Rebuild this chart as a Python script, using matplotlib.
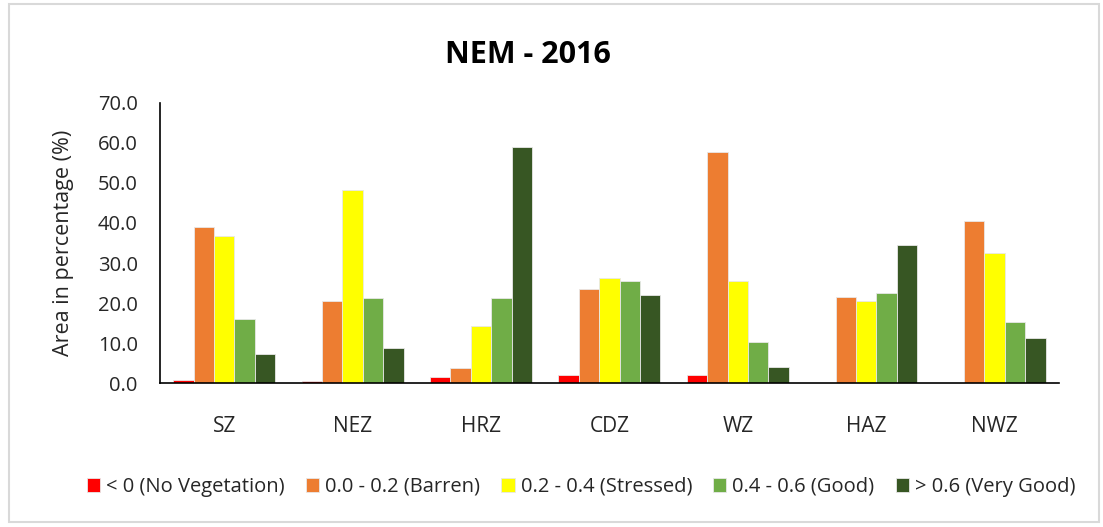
import matplotlib
matplotlib.use("Agg")
import matplotlib.pyplot as plt
from matplotlib.patches import Rectangle
import numpy as np

plt.rcParams['font.family'] = ['Open Sans', 'DejaVu Sans']

zones = ['SZ', 'NEZ', 'HRZ', 'CDZ', 'WZ', 'HAZ', 'NWZ']
classes = ['< 0 (No Vegetation)', '0.0 - 0.2 (Barren)', '0.2 - 0.4 (Stressed)',
           '0.4 - 0.6 (Good)', '> 0.6 (Very Good)']
colors = ['#ff0000', '#ed7d31', '#ffff00', '#70ad47', '#375623']

no_veg = [0.8, 0.4, 1.4, 2.0, 2.0, 0.0, 0.0]
barren = [39.0, 20.6, 3.7, 23.5, 57.8, 21.6, 40.5]
stressed = [36.7, 48.2, 14.2, 26.3, 25.4, 20.6, 32.5]
good = [16.1, 21.2, 21.2, 25.4, 10.3, 22.5, 15.2]
very_good = [7.2, 8.7, 59.1, 21.9, 4.0, 34.4, 11.3]
series = [no_veg, barren, stressed, good, very_good]

fig = plt.figure(figsize=(11.03, 5.27), dpi=100)
ax = fig.add_axes([0.145, 0.2732, 0.815, 0.5314])

x = np.arange(len(zones))
w = 0.159
for i, (vals, c, lab) in enumerate(zip(series, colors, classes)):
    ax.bar(x + (i - 2) * w, vals, w, color=c, label=lab,
           edgecolor='#e8e8e8', linewidth=0.6)

ax.set_xlim(-0.5, len(zones) - 0.5)
ax.set_ylim(0, 70)
ax.set_yticks(np.arange(0, 71, 10))
ax.set_yticklabels(['%.1f' % v for v in np.arange(0, 71, 10)])
ax.set_xticks(x)
ax.set_xticklabels(zones)
ax.tick_params(axis='both', length=0, colors='#262626')
ax.tick_params(axis='y', pad=16, labelsize=14.5)
ax.tick_params(axis='x', pad=24, labelsize=15)
for s in ['top', 'right']:
    ax.spines[s].set_visible(False)
ax.spines['left'].set_color('black')
ax.spines['bottom'].set_color('black')
ax.spines['left'].set_linewidth(1.2)
ax.spines['bottom'].set_linewidth(1.2)

ax.set_ylabel('Area in percentage (%)', fontsize=15.5, color='#262626', labelpad=17)
fig.text(0.479, 0.895, 'NEM - 2016', fontsize=22, fontweight='bold',
         ha='center', va='center')

fig.legend(loc='center', bbox_to_anchor=(0.527, 0.076), ncol=5, frameon=False,
           fontsize=14.5, handlelength=0.65, handleheight=0.65, handletextpad=0.3,
           columnspacing=1.05, labelcolor='#262626')

fig.patches.append(Rectangle((0.008, 0.01), 0.988, 0.982, transform=fig.transFigure,
                             fill=False, edgecolor='#d9d9d9', linewidth=1.5))

fig.savefig('out.png', dpi=100)
